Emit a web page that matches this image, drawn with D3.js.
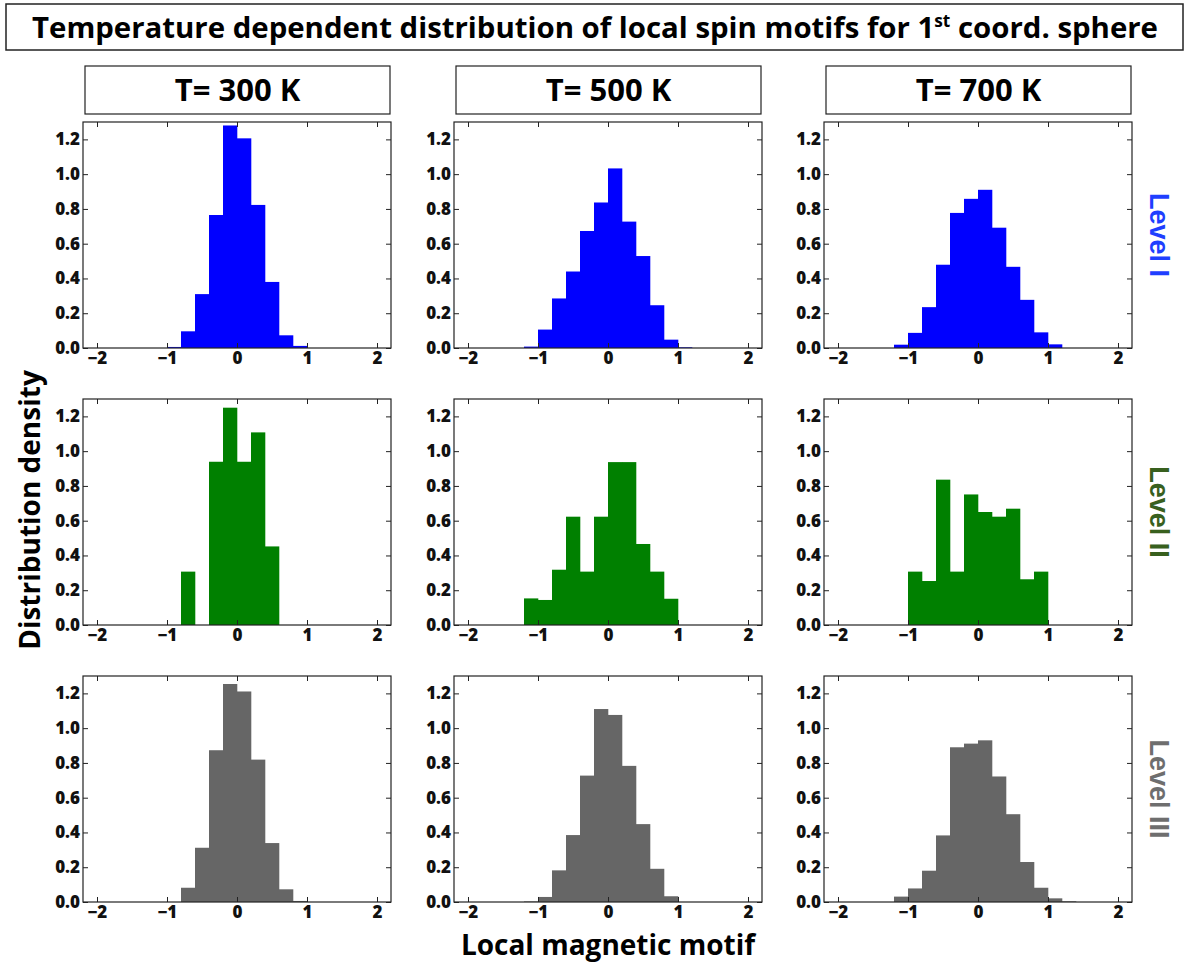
<!DOCTYPE html>
<html>
<head>
<meta charset="utf-8">
<script src="https://cdn.jsdelivr.net/npm/d3@7"></script>
<style>
  body { margin: 0; background: #fff; }
  svg text { font-family: "DejaVu Sans", sans-serif; }
</style>
</head>
<body>
<svg id="fig" width="1192" height="967"></svg>
<script>
// column / row headers
var temps = ["T= 300 K", "T= 500 K", "T= 700 K"];
var levels = ["Level I", "Level II", "Level III"];
var levelColors = ["#0000ff", "#008000", "#666666"];
var levelTextColors = ["#1f3fff", "#38601e", "#6e6e6e"];

// histogram bin width and first bin edge of each panel [level][temp]
var binWidth = 0.2;
var binStarts = [[-1.0, -1.2, -1.2], [-0.8, -1.2, -1.0], [-0.8, -1.2, -1.2]];

// bin heights (distribution density)
var lvl1_300 = [0.006, 0.096, 0.31, 0.765, 1.28, 1.206, 0.823, 0.38, 0.073, 0.012];
var lvl1_500 = [0.008, 0.106, 0.285, 0.44, 0.673, 0.837, 1.033, 0.727, 0.529, 0.246, 0.048, 0.004];
var lvl1_700 = [0.019, 0.087, 0.235, 0.479, 0.777, 0.858, 0.91, 0.692, 0.467, 0.277, 0.09, 0.021];
var lvl2_300 = [0.307, 0, 0.939, 1.25, 0.939, 1.108, 0.452];
var lvl2_500 = [0.153, 0.144, 0.318, 0.623, 0.307, 0.623, 0.937, 0.937, 0.466, 0.307, 0.151];
var lvl2_700 = [0.307, 0.253, 0.836, 0.307, 0.751, 0.65, 0.623, 0.669, 0.263, 0.307];
var lvl3_300 = [0.082, 0.312, 0.873, 1.254, 1.211, 0.819, 0.339, 0.073, 0.006];
var lvl3_500 = [0.003, 0.029, 0.182, 0.385, 0.727, 1.11, 1.076, 0.783, 0.448, 0.191, 0.033];
var lvl3_700 = [0.031, 0.078, 0.18, 0.383, 0.89, 0.911, 0.93, 0.722, 0.505, 0.23, 0.082, 0.021, 0.004];
var series = [[lvl1_300, lvl1_500, lvl1_700], [lvl2_300, lvl2_500, lvl2_700], [lvl3_300, lvl3_500, lvl3_700]];

var xTicks = [-2, -1, 0, 1, 2];
var yTicks = [0, 0.2, 0.4, 0.6, 0.8, 1.0, 1.2];

var svg = d3.select("#fig");
var colLeft = [83, 454, 824], rowTop = [122, 399, 676];
var pw = 308, ph = 226;

var x = d3.scaleLinear().domain([-2.2, 2.2]).range([0, pw]);
var y = d3.scaleLinear().domain([0, 1.3]).range([ph, 0]);

// title box
svg.append("rect").attr("x", 6).attr("y", 4).attr("width", 1177).attr("height", 46)
  .attr("fill", "#fff").attr("stroke", "#222").attr("stroke-width", 1.5);
var title = svg.append("text").attr("x", 595).attr("y", 38).attr("text-anchor", "middle")
  .attr("textLength", 1126).attr("lengthAdjust", "spacingAndGlyphs")
  .style("font-family", "'Open Sans', sans-serif").style("font-weight", "bold").style("font-size", "29px");
title.append("tspan").text("Temperature dependent distribution of local spin motifs for 1");
title.append("tspan").attr("dy", -11).style("font-size", "17px").text("st");
title.append("tspan").attr("dy", 11).text(" coord. sphere");

// temperature boxes
temps.forEach(function(t, j) {
  svg.append("rect").attr("x", colLeft[j] + 2).attr("y", 66).attr("width", 305).attr("height", 48)
    .attr("fill", "#fff").attr("stroke", "#222").attr("stroke-width", 1.2);
  svg.append("text").attr("x", colLeft[j] + 2 + 152.5).attr("y", 101).attr("text-anchor", "middle")
    .style("font-family", "'Open Sans', sans-serif").style("font-weight", "bold").style("font-size", "31px")
    .text(t);
});

levels.forEach(function(lv, i) {
  series[i].forEach(function(vals, j) {
    var g = svg.append("g").attr("transform", "translate(" + colLeft[j] + "," + rowTop[i] + ")");
    var bins = vals.map(function(v, k) {
      var x0 = binStarts[i][j] + k * binWidth;
      return {x0: x0, x1: x0 + binWidth, v: v};
    });
    g.append("g").selectAll("rect").data(bins).enter().append("rect")
      .attr("x", d => x(d.x0)).attr("width", d => x(d.x1) - x(d.x0) + 0.3)
      .attr("y", d => y(d.v)).attr("height", d => y(0) - y(d.v))
      .attr("fill", levelColors[i]);

    var ax = [
      d3.axisBottom(x).tickValues(xTicks).tickFormat(d => d3.format("")(d).replace("-", "\u2212")),
      d3.axisTop(x).tickValues(xTicks).tickFormat(""),
      d3.axisLeft(y).tickValues(yTicks).tickFormat(d3.format(".1f")),
      d3.axisRight(y).tickValues(yTicks).tickFormat("")
    ];
    var pos = ["translate(0," + ph + ")", "translate(0,0)", "translate(0,0)", "translate(" + pw + ",0)"];
    ax.forEach(function(a, k) {
      var ag = g.append("g").attr("transform", pos[k])
        .call(a.tickSizeInner(-5).tickSizeOuter(0).tickPadding(k == 0 ? 4 : 3));
      ag.select(".domain").remove();
      ag.attr("font-size", 17).attr("font-family", "'Open Sans', sans-serif");
      ag.selectAll("text").style("font-family", "'Open Sans', sans-serif")
        .style("font-weight", "800").style("font-size", "17px").attr("fill", "#111");
      ag.selectAll("line").attr("stroke", "#222");
    });
    g.append("rect").attr("width", pw).attr("height", ph)
      .attr("fill", "none").attr("stroke", "#222").attr("stroke-width", 1.2);
  });

  // level label on the right
  svg.append("text")
    .attr("transform", "translate(1150," + (rowTop[i] + ph / 2) + ") rotate(90)")
    .attr("text-anchor", "middle")
    .style("font-family", "'Liberation Sans', Arial, sans-serif").style("font-weight", "bold")
    .style("font-size", "27px").attr("fill", levelTextColors[i])
    .text(lv);
});

// axis titles
svg.append("text").attr("transform", "translate(40,510) rotate(-90)").attr("text-anchor", "middle")
  .style("font-family", "'Open Sans', sans-serif").style("font-weight", "bold").style("font-size", "28px")
  .text("Distribution density");
svg.append("text").attr("x", 608).attr("y", 955).attr("text-anchor", "middle")
  .style("font-family", "'Open Sans', sans-serif").style("font-weight", "bold").style("font-size", "28px")
  .text("Local magnetic motif");
</script>
</body>
</html>
